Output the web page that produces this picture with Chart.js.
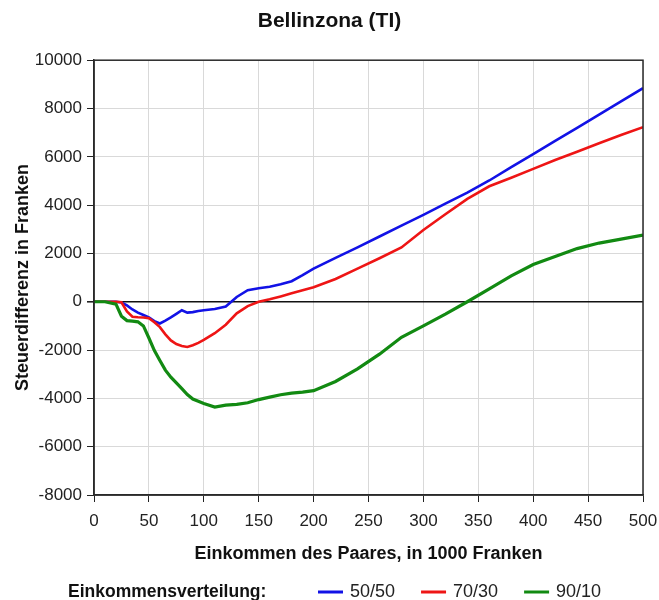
<!DOCTYPE html>
<html>
<head>
<meta charset="utf-8">
<script src="https://cdn.jsdelivr.net/npm/chart.js@4.4.1/dist/chart.umd.min.js"></script>
<style>
  html, body { margin: 0; padding: 0; background: #fff; }
  #wrap { width: 659px; height: 600px; }
</style>
</head>
<body>
<div id="wrap"><canvas id="c" width="659" height="600"></canvas></div>
<script>
const titleText = "Bellinzona (TI)";
const xTitle = "Einkommen des Paares, in 1000 Franken";
const yTitle = "Steuerdifferenz in Franken";
const legendTitle = "Einkommensverteilung:";
const seriesNames = ["50/50", "70/30", "90/10"];
const seriesColors = ["#1212e6", "#ee1515", "#128a12"];

const incomes = [0,10,20,25,30,35,40,45,50,55,60,65,70,75,80,85,90,95,100,110,120,130,140,150,160,170,180,190,200,220,240,260,280,300,320,340,360,380,400,420,440,460,480,500];
const split5050 = [0,0,0,-30,-150,-320,-450,-550,-650,-800,-900,-780,-650,-500,-350,-450,-430,-380,-350,-300,-200,200,480,560,620,720,850,1100,1370,1820,2250,2700,3150,3600,4060,4520,5020,5570,6110,6660,7200,7750,8300,8840];
const split7030 = [0,0,0,-20,-400,-620,-640,-650,-680,-850,-1050,-1350,-1600,-1750,-1830,-1870,-1800,-1700,-1580,-1300,-950,-480,-180,0,100,220,350,480,600,940,1370,1800,2250,2970,3620,4260,4780,5130,5500,5870,6210,6560,6900,7230];
const split9010 = [0,0,-100,-600,-780,-800,-830,-1000,-1500,-2020,-2430,-2830,-3120,-3360,-3600,-3840,-4030,-4120,-4210,-4360,-4280,-4250,-4180,-4050,-3950,-3850,-3780,-3740,-3680,-3300,-2780,-2170,-1470,-1000,-515,0,530,1070,1540,1870,2200,2430,2590,2760];
const xTicks = [0,50,100,150,200,250,300,350,400,450,500];
const yTicks = [-8000,-6000,-4000,-2000,0,2000,4000,6000,8000,10000];

const FONT = "'Liberation Sans', Arial, Helvetica, sans-serif";
const allSeries = [split5050, split7030, split9010];
const lineWidths = [2.6, 2.6, 3.2];

const datasets = allSeries.map((s, i) => ({
  label: seriesNames[i],
  data: incomes.map((x, k) => ({ x: x, y: s[k] })),
  borderColor: seriesColors[i],
  backgroundColor: seriesColors[i],
  borderWidth: lineWidths[i],
  pointRadius: 0,
  tension: 0,
  fill: false
}));
// draw order: green bottom, then red, then blue on top
datasets.reverse();

const frame = {
  id: 'frame',
  afterDatasetsDraw(chart) {
    const a = chart.chartArea, ctx = chart.ctx;
    ctx.save();
    ctx.strokeStyle = '#2a2a2a';
    ctx.lineWidth = 1.5;
    ctx.strokeRect(a.left, a.top, a.right - a.left, a.bottom - a.top);
    ctx.restore();
  },
  afterDraw(chart) {
    const ctx = chart.ctx;
    ctx.save();
    const y = 592;
    ctx.textBaseline = 'middle';
    ctx.fillStyle = '#111';
    ctx.font = "bold 17.5px " + FONT;
    ctx.textAlign = 'left';
    ctx.fillText(legendTitle, 68, y);
    ctx.font = "18px " + FONT;
    let x = 318;
    for (let i = 0; i < seriesNames.length; i++) {
      ctx.strokeStyle = seriesColors[i];
      ctx.lineWidth = 3;
      ctx.beginPath();
      ctx.moveTo(x, y);
      ctx.lineTo(x + 25, y);
      ctx.stroke();
      ctx.fillStyle = '#222';
      ctx.fillText(seriesNames[i], x + 32, y);
      x += 32 + ctx.measureText(seriesNames[i]).width + 26;
    }
    ctx.restore();
  }
};

new Chart(document.getElementById('c'), {
  type: 'line',
  data: { datasets: datasets },
  plugins: [frame],
  options: {
    responsive: false,
    animation: false,
    devicePixelRatio: 1,
    layout: { padding: { left: 0, right: 0, top: 0, bottom: 35 } },
    plugins: {
      legend: { display: false },
      tooltip: { enabled: false },
      title: {
        display: true,
        text: titleText,
        color: '#111',
        font: { family: FONT, size: 21, weight: 'bold' },
        padding: { top: 9, bottom: 26 }
      }
    },
    scales: {
      x: {
        type: 'linear',
        min: 0, max: 500,
        afterBuildTicks(axis) { axis.ticks = xTicks.map(v => ({ value: v })); },
        afterFit(axis) { axis.height = 70; axis.paddingLeft = 0; axis.paddingRight = 16; },
        grid: {
          color: '#d9d9d9',
          lineWidth: 1,
          tickColor: '#222',
          tickLength: 7,
          drawOnChartArea: true
        },
        border: { display: true, color: '#2a2a2a', width: 1.5 },
        ticks: {
          color: '#222',
          font: { family: FONT, size: 17 },
          padding: 9,
          maxRotation: 0,
          autoSkip: false,
          callback: v => String(v)
        },
        title: {
          display: true,
          text: xTitle,
          color: '#111',
          font: { family: FONT, size: 18, weight: 'bold' },
          padding: { top: 12, bottom: 0 }
        }
      },
      y: {
        type: 'linear',
        min: -8000, max: 10000,
        afterBuildTicks(axis) { axis.ticks = yTicks.map(v => ({ value: v })); },
        afterFit(axis) { axis.width = 94; },
        grid: {
          color: ctx => (ctx.tick && ctx.tick.value === 0) ? '#111' : '#d9d9d9',
          lineWidth: ctx => (ctx.tick && ctx.tick.value === 0) ? 1.6 : 1,
          tickColor: '#222',
          tickLength: 7
        },
        border: { display: true, color: '#2a2a2a', width: 1.5 },
        ticks: {
          color: '#222',
          font: { family: FONT, size: 17 },
          padding: 5,
          autoSkip: false,
          callback: v => String(v)
        },
        title: {
          display: true,
          text: yTitle,
          color: '#111',
          font: { family: FONT, size: 18, weight: 'bold' },
          padding: { top: 12, bottom: 4 }
        }
      }
    }
  }
});
</script>
</body>
</html>
